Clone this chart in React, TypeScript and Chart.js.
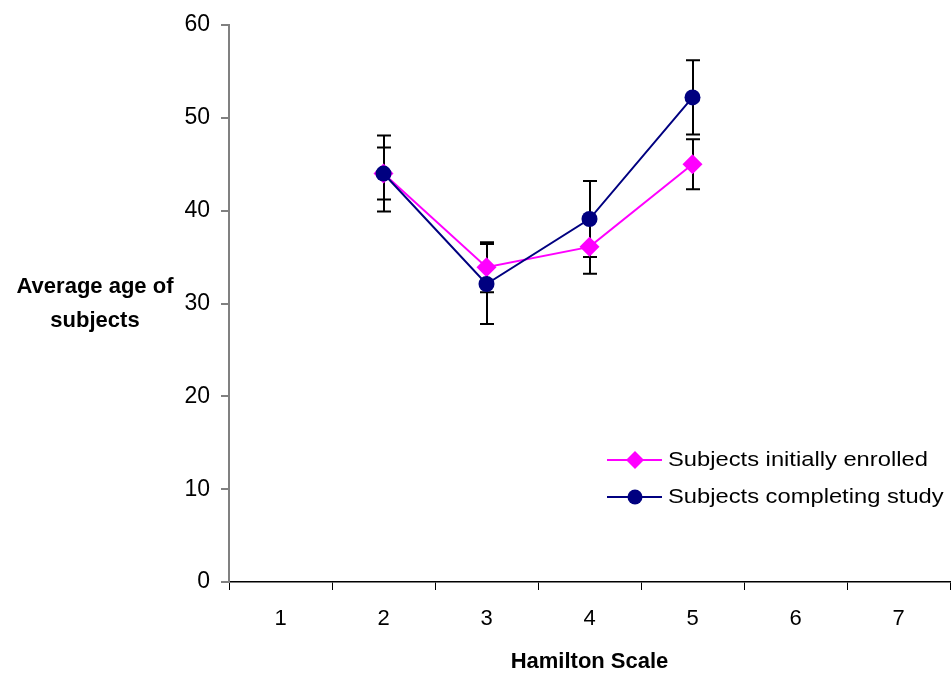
import React, { useEffect, useRef } from "react";
import { Chart, registerables } from "chart.js";

Chart.register(...registerables);

const categories = ["1", "2", "3", "4", "5", "6", "7"];
const enrolled = [null, 44, 33.9, 36.1, 45, null, null];
const enrolledErr = [null, 2.8, 2.7, 2.9, 2.7, null, null];
const completing = [null, 44, 32.1, 39.1, 52.2, null, null];
const completingErr = [null, 4.1, 4.3, 4.1, 4.0, null, null];
const seriesNames = ["Subjects initially enrolled", "Subjects completing study"];
const yTitleLines = ["Average age of", "subjects"];
const xTitle = "Hamilton Scale";
const yMin = 0;
const yMax = 60;
const yStep = 10;

const FONT = "Arial, 'Liberation Sans', sans-serif";
const MAGENTA = "#FF00FF";
const NAVY = "#000080";

const errorBarsPlugin = {
  id: "errorBars",
  beforeDatasetsDraw(chart: any) {
    const ctx = chart.ctx;
    const xs = chart.scales.x;
    const ys = chart.scales.y;
    ctx.save();
    ctx.strokeStyle = "#000";
    ctx.lineWidth = 2;
    chart.data.datasets.forEach((ds: any) => {
      const errs = ds.errors;
      if (!errs) return;
      ds.data.forEach((v: any, i: number) => {
        if (v == null || errs[i] == null) return;
        const px = Math.round(xs.getPixelForValue(i));
        const top = ys.getPixelForValue(v + errs[i]);
        const bot = ys.getPixelForValue(v - errs[i]);
        ctx.beginPath();
        ctx.moveTo(px, top);
        ctx.lineTo(px, bot);
        ctx.moveTo(px - 7, top);
        ctx.lineTo(px + 7, top);
        ctx.moveTo(px - 7, bot);
        ctx.lineTo(px + 7, bot);
        ctx.stroke();
      });
    });
    ctx.restore();
  },
};

function drawScaledText(ctx: any, text: string, x: number, y: number, sx: number, align: string) {
  ctx.save();
  ctx.translate(x, y);
  ctx.scale(sx, 1);
  ctx.textAlign = align;
  ctx.textBaseline = "middle";
  ctx.fillText(text, 0, 0);
  ctx.restore();
}

const extrasPlugin = {
  id: "extras",
  afterDraw(chart: any) {
    const ctx = chart.ctx;
    const area = chart.chartArea;
    const ys = chart.scales.y;
    ctx.save();
    ctx.fillStyle = "#000";
    // Y axis title (horizontal, two lines)
    ctx.font = `bold 22px ${FONT}`;
    const midY = (area.top + area.bottom) / 2;
    const cx = ys.left + 95;
    drawScaledText(ctx, yTitleLines[0], cx, midY - 17, 1.0, "center");
    drawScaledText(ctx, yTitleLines[1], cx, midY + 17, 1.0, "center");

    // Legend inside plot
    const lx = area.left + 378;
    const rows = [
      { y: area.bottom - 122, color: MAGENTA, shape: "diamond", text: seriesNames[0] },
      { y: area.bottom - 85, color: NAVY, shape: "circle", text: seriesNames[1] },
    ];
    rows.forEach((r) => {
      ctx.strokeStyle = r.color;
      ctx.lineWidth = 2;
      ctx.beginPath();
      ctx.moveTo(lx, r.y);
      ctx.lineTo(lx + 55, r.y);
      ctx.stroke();
      ctx.fillStyle = r.color;
      const mx = lx + 28;
      ctx.beginPath();
      if (r.shape === "diamond") {
        ctx.moveTo(mx, r.y - 9);
        ctx.lineTo(mx + 9, r.y);
        ctx.lineTo(mx, r.y + 9);
        ctx.lineTo(mx - 9, r.y);
        ctx.closePath();
      } else {
        ctx.arc(mx, r.y, 7.5, 0, Math.PI * 2);
      }
      ctx.fill();
      ctx.fillStyle = "#000";
      ctx.font = `21px ${FONT}`;
      drawScaledText(ctx, r.text, lx + 61, r.y, 1.13, "left");
    });
    ctx.restore();
  },
};

export default function App() {
  const canvasRef = useRef<HTMLCanvasElement | null>(null);

  useEffect(() => {
    if (!canvasRef.current) return;
    const chart = new Chart(canvasRef.current, {
      type: "line",
      data: {
        labels: categories,
        datasets: [
          {
            label: seriesNames[0],
            data: enrolled,
            errors: enrolledErr,
            borderColor: MAGENTA,
            backgroundColor: MAGENTA,
            borderWidth: 2,
            pointStyle: "rectRot",
            pointRadius: 10,
            pointBorderWidth: 0,
            pointBackgroundColor: MAGENTA,
            tension: 0,
            order: 2,
          } as any,
          {
            label: seriesNames[1],
            data: completing,
            errors: completingErr,
            borderColor: NAVY,
            backgroundColor: NAVY,
            borderWidth: 2,
            pointStyle: "circle",
            pointRadius: 8,
            pointBorderWidth: 0,
            pointBackgroundColor: NAVY,
            tension: 0,
            order: 1,
          } as any,
        ],
      },
      options: {
        responsive: false,
        animation: false,
        layout: { autoPadding: false, padding: { top: 25, right: 2, left: 0, bottom: 0 } },
        plugins: {
          legend: { display: false },
          tooltip: { enabled: false },
        },
        scales: {
          x: {
            type: "category",
            offset: true,
            grid: {
              display: true,
              offset: true,
              drawOnChartArea: false,
              drawTicks: true,
              tickLength: 8,
              color: "#000",
              lineWidth: 1,
            },
            border: { display: true, color: "#000", width: 1.5 },
            ticks: {
              color: "#000",
              font: { family: FONT, size: 22 },
              padding: 16,
              maxRotation: 0,
              autoSkip: false,
            },
            title: {
              display: true,
              text: xTitle,
              color: "#000",
              font: { family: FONT, size: 22, weight: "bold" },
              padding: { top: 0, bottom: -2 },
            },
            afterFit(scale: any) {
              scale.height = 91;
            },
          },
          y: {
            min: yMin,
            max: yMax,
            grid: {
              display: true,
              drawOnChartArea: false,
              drawTicks: true,
              tickLength: 8,
              color: "#808080",
              lineWidth: 2,
            },
            border: { display: true, color: "#808080", width: 2 },
            ticks: {
              stepSize: yStep,
              color: "#000",
              font: { family: FONT, size: 23 },
              padding: 11,
            },
            afterFit(scale: any) {
              scale.width = 229;
            },
          },
        },
      } as any,
      plugins: [errorBarsPlugin, extrasPlugin],
    });
    return () => chart.destroy();
  }, []);

  return (
    <div style={{ position: "fixed", left: 0, top: 0, width: 952, height: 673, background: "#fff" }}>
      <canvas ref={canvasRef} width={952} height={673} />
    </div>
  );
}
